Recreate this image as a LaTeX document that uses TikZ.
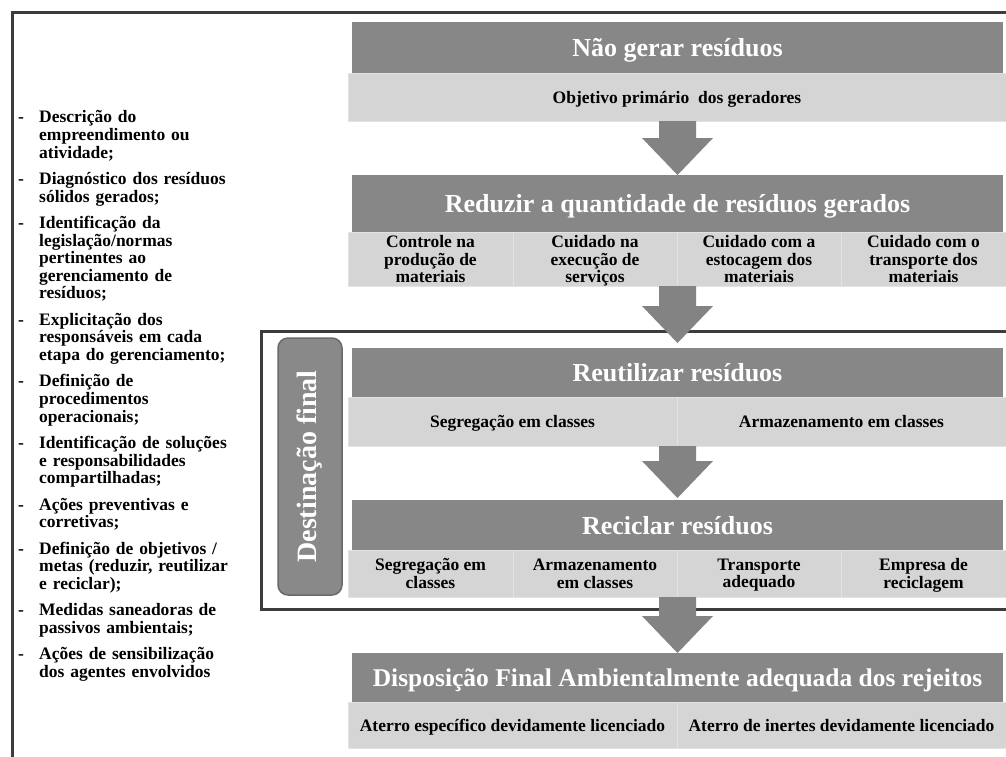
\documentclass[tikz,border=0pt]{standalone}
\usepackage{fontspec}
\setmainfont{Liberation Serif}
\usetikzlibrary{calc}
\definecolor{darkbox}{HTML}{878787}
\definecolor{lightbox}{HTML}{D5D5D5}
\definecolor{lightedge}{HTML}{E3E3E3}
\definecolor{frameline}{HTML}{3C3C3C}
\definecolor{arrowgray}{HTML}{838383}
\definecolor{destfill}{HTML}{898989}
\definecolor{destedge}{HTML}{6A6A6A}
\newcommand\litem[1]{\par\noindent\llap{\makebox[21pt][l]{-}}#1\par}
\newcommand\blkarrow[2]{\fill[arrowgray] let \p1=(#1), \p2=(#2) in
  (\x2-18.5pt,\y1) -- (\x2+18.5pt,\y1) -- (\x2+18.5pt,\y2+37pt) -- (\x2+35.5pt,\y2+37pt)
  -- (\x2,\y2) -- (\x2-35.5pt,\y2+37pt) -- (\x2-18.5pt,\y2+37pt) -- cycle;}
\tikzset{
  titlebox/.style={anchor=north west, fill=darkbox, inner sep=0pt, outer sep=0pt,
    minimum width=651, text=white, text depth=0pt, font=\fontsize{26}{28}\selectfont\bfseries},
  cellbox/.style={anchor=north west, fill=lightbox, draw=lightedge, line width=1pt,
    inner sep=0pt, outer sep=0pt, align=center, text=black, text depth=0pt,
    font=\fontsize{17.5}{17.5}\selectfont\bfseries},
  frame/.style={draw=frameline, line width=3pt},
  destbox/.style={rotate=90, fill=destfill, draw=destedge, line width=1.5pt,
    rounded corners=10pt, minimum width=257, minimum height=64, inner sep=0pt,
    text=white, font=\fontsize{28}{30}\selectfont\bfseries},
}
\begin{document}
\begin{tikzpicture}[x=1pt,y=-1pt]
\useasboundingbox (0,0) rectangle (1006,756);
\fill[white] (0,0) rectangle (1006,756);

% stage 1
\node[titlebox, minimum height=51] (t1) at (352,22) {Não gerar resíduos};
\node[cellbox, minimum width=658, minimum height=48] (s1) at (348,73) {Objetivo primário~ dos geradores};

% stage 2
\node[titlebox, minimum height=57] (t2) at (352,175) {Reduzir a quantidade de resíduos gerados};
\node[cellbox, minimum width=165, minimum height=54] (s2a) at (348,232) {Controle na\\produção de\\materiais};
\node[cellbox, minimum width=164, minimum height=54] (s2b) at (513,232) {Cuidado na\\execução de\\serviços};
\node[cellbox, minimum width=164, minimum height=54] (s2c) at (677,232) {Cuidado com a\\estocagem dos\\materiais};
\node[cellbox, minimum width=165, minimum height=54] (s2d) at (841,232) {Cuidado com o\\transporte dos\\materiais};

% stage 3
\node[titlebox, minimum height=49] (t3) at (352,348) {Reutilizar resíduos};
\node[cellbox, minimum width=329, minimum height=49] (s3a) at (348,397) {Segregação em classes};
\node[cellbox, minimum width=329, minimum height=49] (s3b) at (677,397) {Armazenamento em classes};

% stage 4
\node[titlebox, minimum height=50] (t4) at (352,500) {Reciclar resíduos};
\node[cellbox, minimum width=165, minimum height=47] (s4a) at (348,550) {Segregação em\\classes};
\node[cellbox, minimum width=164, minimum height=47] (s4b) at (513,550) {Armazenamento\\em classes};
\node[cellbox, minimum width=164, minimum height=47] (s4c) at (677,550) {Transporte\\adequado};
\node[cellbox, minimum width=165, minimum height=47] (s4d) at (841,550) {Empresa de\\reciclagem};

% stage 5
\node[titlebox, minimum height=49, font=\fontsize{25.5}{28}\selectfont\bfseries] (t5) at (352,653) {Disposição Final Ambientalmente adequada dos rejeitos};
\node[cellbox, minimum width=329, minimum height=46] (s5a) at (348,702) {Aterro específico devidamente licenciado};
\node[cellbox, minimum width=329, minimum height=46] (s5b) at (677,702) {Aterro de inertes devidamente licenciado};

% frames
\draw[frame] (12,760) -- (12,12) -- (1010,12);
\draw[frame] (1010,331) -- (261,331) -- (261,609) -- (1010,609);

% destination label
\node[destbox] (dest) at (310,466.5) {Destinação final};

% block arrows
\blkarrow{s1.south}{t2.north}
\blkarrow{s2b.south east}{[yshift=5pt]t3.north}
\blkarrow{s3a.south east}{[yshift=2pt]t4.north}
\blkarrow{s4b.south east}{t5.north}

% list
\node[anchor=north west, inner sep=0pt, text width=240, align=left,
  font=\fontsize{17.5}{17.6}\selectfont\bfseries] (list) at (12,105) {%
\leftskip=27pt\relax
\litem{Descrição do\newline empreendimento ou\newline atividade;}
\setlength{\parskip}{8.8pt}%
\litem{Diagnóstico dos resíduos\newline sólidos gerados;}
\litem{Identificação da\newline legislação/normas\newline pertinentes ao\newline gerenciamento de\newline resíduos;}
\litem{Explicitação dos\newline responsáveis em cada\newline etapa do gerenciamento;}
\litem{Definição de\newline procedimentos\newline operacionais;}
\litem{Identificação de soluções\newline e responsabilidades\newline compartilhadas;}
\litem{Ações preventivas e\newline corretivas;}
\litem{Definição de objetivos /\newline metas (reduzir, reutilizar\newline e reciclar);}
\litem{Medidas saneadoras de\newline passivos ambientais;}
\litem{Ações de sensibilização\newline dos agentes envolvidos}%
};
\end{tikzpicture}
\end{document}
